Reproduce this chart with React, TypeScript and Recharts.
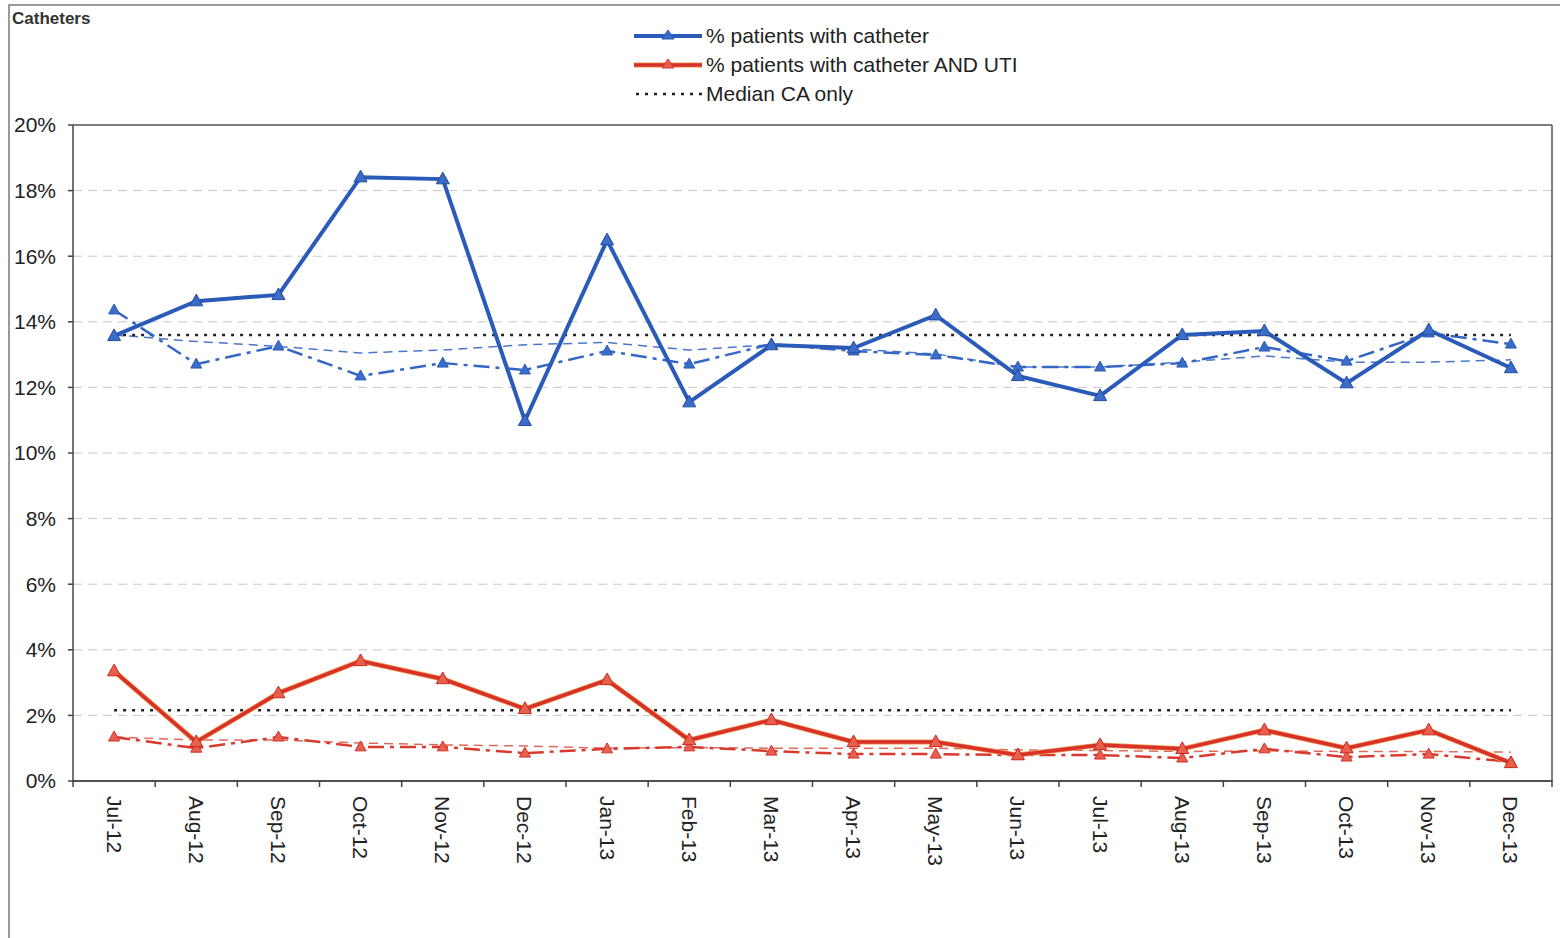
import React from "react";
import { ComposedChart, Line, XAxis, YAxis, CartesianGrid, ReferenceLine } from "recharts";

// Monthly catheter audit, Jul-12 .. Dec-13
const months = [
  "Jul-12", "Aug-12", "Sep-12", "Oct-12", "Nov-12", "Dec-12",
  "Jan-13", "Feb-13", "Mar-13", "Apr-13", "May-13", "Jun-13",
  "Jul-13", "Aug-13", "Sep-13", "Oct-13", "Nov-13", "Dec-13",
];

const catheterPct = [13.57, 14.63, 14.82, 18.41, 18.35, 10.98, 16.49, 11.55, 13.29, 13.2, 14.2, 12.35, 11.74, 13.6, 13.72, 12.13, 13.75, 12.59];
const catheterComparePct = [14.36, 12.71, 13.26, 12.35, 12.74, 12.53, 13.11, 12.71, 13.32, 13.11, 12.99, 12.62, 12.62, 12.74, 13.23, 12.8, 13.66, 13.32];
const catheterTrendPct = [13.6, 13.4, 13.25, 13.05, 13.14, 13.3, 13.37, 13.14, 13.3, 13.17, 13.02, 12.62, 12.62, 12.77, 12.96, 12.77, 12.77, 12.84];
const catheterMedian = [13.6, 13.6, 13.6, 13.6, 13.6, 13.6, 13.6, 13.6, 13.6, 13.6, 13.6, 13.6, 13.6, 13.6, 13.6, 13.6, 13.6, 13.6];

const utiPct = [3.35, 1.19, 2.68, 3.66, 3.11, 2.2, 3.08, 1.25, 1.86, 1.19, 1.19, 0.79, 1.1, 0.98, 1.55, 1.0, 1.55, 0.55];
const utiComparePct = [1.34, 1.0, 1.34, 1.04, 1.04, 0.85, 0.98, 1.04, 0.91, 0.82, 0.82, 0.79, 0.79, 0.7, 0.98, 0.73, 0.82, 0.58];
const utiTrendPct = [1.34, 1.25, 1.25, 1.16, 1.1, 1.07, 1.0, 1.02, 1.0, 1.0, 1.0, 0.95, 0.93, 0.9, 0.92, 0.9, 0.9, 0.88];
const utiMedian = [2.16, 2.16, 2.16, 2.16, 2.16, 2.16, 2.16, 2.16, 2.16, 2.16, 2.16, 2.16, 2.16, 2.16, 2.16, 2.16, 2.16, 2.16];

const yTicks = [0, 2, 4, 6, 8, 10, 12, 14, 16, 18, 20];

const rows = months.map((m, i) => ({
  idx: i,
  month: m,
  catheter: catheterPct[i],
  catheterCompare: catheterComparePct[i],
  catheterTrend: catheterTrendPct[i],
  catheterMedian: catheterMedian[i],
  uti: utiPct[i],
  utiCompare: utiComparePct[i],
  utiTrend: utiTrendPct[i],
  utiMedian: utiMedian[i],
}));

const FONT = "'Liberation Sans', Arial, sans-serif";
const BLUE = "#2b5bb8";
const RED = "#d8302a";
const RED_EDGE = "#ee9a4a";

const monthTicks = months.map((_, i) => i);
const boundaryTicks = [...months.map((_, i) => i - 0.5), months.length - 0.5];
const xDomain = [-0.5, months.length - 0.5];

// triangle marker used by the solid and dash-dot series
const triangle = (size: number, fill: string, stroke: string) => (props: any) => {
  const { cx, cy, index } = props;
  if (cx == null || cy == null) return <g key={index} />;
  const h = size * 0.9;
  const pts = `${cx},${cy - h * 0.6} ${cx - size / 2},${cy + h * 0.4} ${cx + size / 2},${cy + h * 0.4}`;
  return <polygon key={index} points={pts} fill={fill} stroke={stroke} strokeWidth={1} />;
};

const MonthTick = (props: any) => {
  const { x, y, payload } = props;
  const label = months[payload.value] ?? "";
  return (
    <text
      x={x}
      y={y}
      transform={`rotate(90, ${x}, ${y})`}
      textAnchor="start"
      dominantBaseline="central"
      fontSize={21}
      fontFamily={FONT}
      fill="#222"
    >
      {label}
    </text>
  );
};

// short tick marks at the month boundaries, below the axis
const BoundaryTick = (props: any) => {
  const { x, y } = props;
  return <line x1={x} y1={y - 1} x2={x} y2={y + 6} stroke="#444" strokeWidth={1.5} />;
};

const legendItems = [
  { label: "% patients with catheter", kind: "blue" },
  { label: "% patients with catheter AND UTI", kind: "red" },
  { label: "Median CA only", kind: "median" },
];

const LegendSample = ({ kind }: { kind: string }) => {
  if (kind === "median") {
    return (
      <svg width={70} height={12}>
        <line x1={2} y1={6} x2={68} y2={6} stroke="#222" strokeWidth={2.5} strokeDasharray="3 6" />
      </svg>
    );
  }
  const isBlue = kind === "blue";
  return (
    <svg width={70} height={14}>
      {!isBlue && <line x1={0} y1={7} x2={68} y2={7} stroke={RED_EDGE} strokeWidth={5} />}
      <line x1={0} y1={7} x2={68} y2={7} stroke={isBlue ? BLUE : RED} strokeWidth={isBlue ? 4 : 3.5} />
      <polygon
        points="34,1 28,10 40,10"
        fill={isBlue ? "#3a6cc8" : "#e8604c"}
        stroke={isBlue ? BLUE : RED}
        strokeWidth={1}
      />
    </svg>
  );
};

const ChartLegend = () => (
  <div
    style={{
      position: "absolute",
      left: 634,
      top: 21,
      fontFamily: FONT,
      fontSize: 21,
      color: "#222",
    }}
  >
    {legendItems.map((it) => (
      <div key={it.label} style={{ display: "flex", alignItems: "center", height: 29 }}>
        <LegendSample kind={it.kind} />
        <span style={{ marginLeft: 2 }}>{it.label}</span>
      </div>
    ))}
  </div>
);

export default function App() {
  return (
    <div style={{ position: "absolute", left: 0, top: 0, width: 1560, height: 938, background: "#fff", overflow: "hidden" }}>
      <div
        style={{
          position: "absolute",
          left: 8,
          top: 4,
          width: 1560,
          height: 940,
          border: "2px solid #9a9a9a",
          boxSizing: "border-box",
        }}
      />
      <div
        style={{
          position: "absolute",
          left: 12,
          top: 9,
          fontFamily: FONT,
          fontWeight: "bold",
          fontSize: 17,
          color: "#333",
        }}
      >
        Catheters
      </div>
      <div style={{ position: "absolute", left: 0, top: 0 }}>
        <ComposedChart
          width={1560}
          height={938}
          data={rows}
          margin={{ top: 125, right: 8, bottom: 0, left: 0 }}
        >
          <CartesianGrid
            vertical={false}
            stroke="#c8c8c8"
            strokeDasharray="9 6"
            horizontalValues={[2, 4, 6, 8, 10, 12, 14, 16, 18]}
          />
          <XAxis
            xAxisId="bounds"
            dataKey="idx"
            type="number"
            domain={xDomain}
            ticks={boundaryTicks}
            interval={0}
            tick={<BoundaryTick />}
            tickLine={false}
            tickSize={0}
            tickMargin={0}
            height={1}
            axisLine={{ stroke: "#444", strokeWidth: 1.5 }}
          />
          <XAxis
            xAxisId="months"
            dataKey="idx"
            type="number"
            domain={xDomain}
            ticks={monthTicks}
            interval={0}
            tick={<MonthTick />}
            tickLine={false}
            axisLine={false}
            tickMargin={8}
            height={156}
          />
          <YAxis
            domain={[0, 20]}
            ticks={yTicks}
            interval={0}
            width={73}
            tickFormatter={(v: number) => `${v}%`}
            tick={{ fontSize: 21, fontFamily: FONT, fill: "#222" }}
            tickSize={5}
            tickMargin={12}
            axisLine={{ stroke: "#444", strokeWidth: 1.5 }}
            tickLine={{ stroke: "#444", strokeWidth: 1.5 }}
          />

          {/* plot frame: top, right and bottom edges */}
          <ReferenceLine xAxisId="bounds" y={20} stroke="#555" strokeWidth={1.5} />
          <ReferenceLine xAxisId="bounds" y={0} stroke="#444" strokeWidth={1.5} />
          <ReferenceLine xAxisId="bounds" x={months.length - 0.5} stroke="#555" strokeWidth={1.5} />

          {/* catheter series */}
          <Line xAxisId="bounds" dataKey="catheterTrend" stroke="#4a77cc" strokeWidth={1.5} strokeDasharray="9 6" dot={false} isAnimationActive={false} />
          <Line xAxisId="bounds" dataKey="catheterMedian" stroke="#222" strokeWidth={2.5} strokeDasharray="3 6" dot={false} isAnimationActive={false} />
          <Line xAxisId="bounds" dataKey="catheterCompare" stroke="#3566c4" strokeWidth={2.5} strokeDasharray="16 6 4 6" dot={triangle(11, "#3a6cc8", "#2b5bb8")} isAnimationActive={false} />
          <Line xAxisId="bounds" dataKey="catheter" stroke={BLUE} strokeWidth={4} dot={triangle(13, "#3a6cc8", "#224c9e")} isAnimationActive={false} />

          {/* catheter + UTI series */}
          <Line xAxisId="bounds" dataKey="utiTrend" stroke="#e06a5a" strokeWidth={1.5} strokeDasharray="9 6" dot={false} isAnimationActive={false} />
          <Line xAxisId="bounds" dataKey="utiMedian" stroke="#222" strokeWidth={2.5} strokeDasharray="3 6" dot={false} isAnimationActive={false} />
          <Line xAxisId="bounds" dataKey="utiCompare" stroke="#d93a2e" strokeWidth={2.5} strokeDasharray="16 6 4 6" dot={triangle(11, "#e8604c", "#d0302a")} isAnimationActive={false} />
          <Line xAxisId="bounds" dataKey="uti" stroke={RED_EDGE} strokeWidth={5} dot={false} isAnimationActive={false} />
          <Line xAxisId="bounds" dataKey="uti" stroke={RED} strokeWidth={3.5} dot={triangle(13, "#e8604c", "#c8281f")} isAnimationActive={false} />
        </ComposedChart>
      </div>
      <ChartLegend />
    </div>
  );
}
